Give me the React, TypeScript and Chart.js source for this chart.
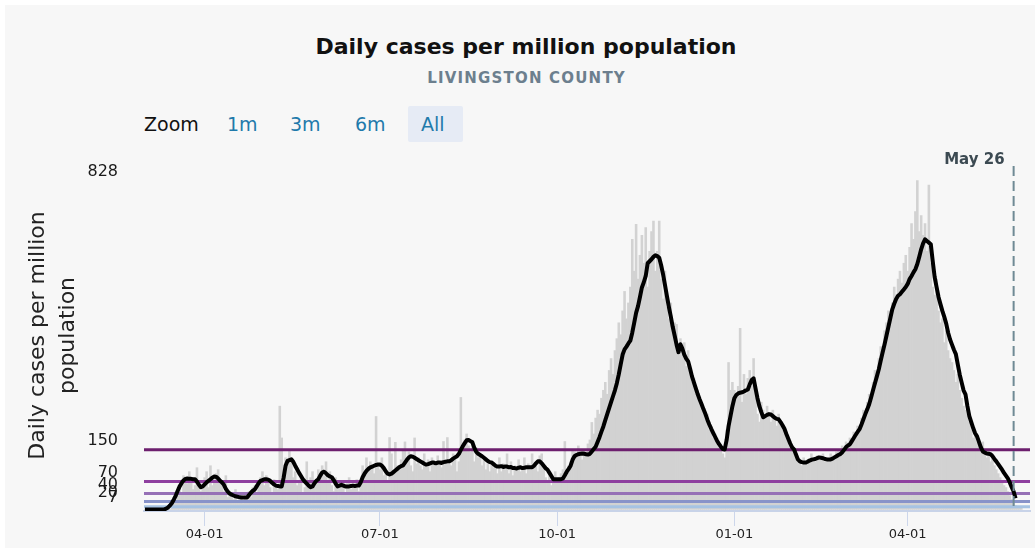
import { useEffect, useRef } from 'react';
import { Chart, registerables } from 'chart.js';

Chart.register(...registerables);

const FONT = '"DejaVu Sans", "Open Sans", sans-serif';

// Daily cases per million (bars), day 0 = 2020-03-01
const barsMar20 = [0, 0, 0, 0, 0, 0, 0, 0, 0, 0, 0, 0, 5, 0, 10, 25, 20, 45, 60, 40, 85, 70, 65, 95, 80, 50, 60, 105, 70, 45, 65];
const barsApr20 = [80, 95, 55, 110, 60, 75, 90, 100, 70, 60, 45, 85, 30, 40, 35, 25, 50, 20, 30, 40, 15, 35, 25, 45, 30, 55, 60, 40, 70, 80];
const barsMay20 = [95, 60, 85, 70, 55, 40, 75, 60, 50, 260, 180, 90, 130, 110, 150, 125, 80, 95, 60, 70, 85, 40, 55, 120, 65, 80, 95, 70, 75, 100, 90];
const barsJun20 = [110, 85, 120, 70, 95, 60, 45, 80, 50, 65, 55, 70, 40, 65, 80, 50, 55, 60, 75, 45, 70, 110, 80, 130, 95, 120, 110, 90, 234, 115];
const barsJul20 = [100, 130, 85, 95, 70, 181, 140, 90, 169, 110, 100, 125, 150, 170, 120, 145, 110, 95, 180, 115, 130, 110, 100, 140, 115, 125, 95, 130, 120, 110, 135];
const barsAug20 = [120, 105, 171, 115, 181, 125, 110, 140, 130, 95, 120, 282, 150, 175, 190, 160, 145, 170, 120, 155, 130, 135, 110, 125, 100, 115, 95, 120, 105, 110, 90];
const barsSep20 = [130, 95, 115, 100, 140, 90, 120, 85, 110, 100, 125, 95, 105, 130, 90, 115, 100, 140, 110, 120, 95, 135, 140, 105, 80, 70, 85, 60, 75, 95];
const barsOct20 = [70, 80, 90, 100, 171, 85, 110, 120, 150, 145, 130, 160, 140, 125, 150, 140, 165, 175, 219, 190, 230, 250, 240, 280, 300, 320, 290, 350, 380, 340, 400];
const barsNov20 = [430, 470, 440, 500, 549, 480, 520, 560, 680, 600, 718, 580, 640, 690, 620, 710, 560, 650, 700, 726, 600, 650, 726, 580, 530, 600, 509, 480, 520, 450];
const barsDec20 = [470, 466, 400, 430, 390, 420, 360, 400, 350, 320, 330, 290, 300, 270, 260, 250, 230, 240, 200, 210, 180, 190, 170, 160, 150, 140, 130, 200, 370, 300, 320];
const barsJan21 = [300, 290, 310, 456, 270, 340, 290, 330, 350, 310, 380, 300, 240, 220, 270, 250, 230, 260, 240, 220, 250, 230, 210, 240, 220, 200, 190, 180, 170, 160, 150];
const barsFeb21 = [140, 130, 120, 125, 110, 130, 120, 115, 125, 140, 130, 120, 135, 130, 125, 140, 120, 130, 125, 140, 135, 130, 145, 150, 140, 160, 155, 170];
const barsMar21 = [165, 180, 170, 195, 190, 210, 200, 230, 250, 240, 270, 290, 280, 320, 350, 340, 380, 410, 400, 450, 470, 500, 480, 520, 560, 540, 580, 600, 570, 620, 640];
const barsApr21 = [600, 660, 720, 680, 750, 828, 700, 740, 690, 720, 650, 817, 620, 560, 540, 580, 500, 470, 480, 420, 450, 400, 380, 370, 350, 320, 340, 300, 280, 260];
const barsMay21 = [250, 240, 220, 200, 180, 190, 170, 160, 150, 170, 140, 130, 150, 120, 140, 110, 100, 90, 80, 70, 60, 55, 45, 35, 25, 15, 10, 8, 5, 3];

// 7-day average (line)
const avgMar20 = [0, 0, 0, 0, 0, 0, 0, 0, 0, 0, 0, 2, 5, 10, 16, 25, 35, 47, 58, 66, 73, 77, 78, 77, 77, 76, 76, 70, 62, 56, 58];
const avgApr20 = [63, 68, 72, 76, 80, 83, 82, 78, 72, 68, 62, 52, 45, 40, 37, 35, 33, 32, 31, 30, 30, 30, 30, 36, 42, 47, 50, 58, 66, 72];
const avgMay20 = [74, 76, 76, 75, 72, 67, 63, 60, 59, 58, 58, 80, 110, 122, 124, 126, 120, 110, 101, 92, 84, 76, 70, 65, 60, 56, 58, 66, 72, 76, 85];
const avgJun20 = [93, 95, 91, 86, 83, 81, 74, 65, 58, 60, 62, 60, 58, 58, 58, 59, 60, 59, 60, 60, 68, 81, 90, 97, 102, 106, 108, 110, 112, 113];
const avgJul20 = [113, 110, 104, 96, 90, 88, 90, 94, 98, 102, 106, 109, 111, 118, 125, 131, 134, 133, 130, 127, 124, 121, 118, 115, 113, 114, 116, 118, 118, 116, 118];
const avgAug20 = [118, 117, 119, 120, 121, 121, 124, 128, 131, 134, 140, 150, 159, 167, 174, 175, 172, 169, 155, 145, 140, 137, 134, 130, 126, 122, 119, 118, 114, 110, 108];
const avgSep20 = [108, 109, 107, 108, 108, 106, 107, 104, 104, 103, 105, 106, 104, 105, 106, 106, 106, 106, 110, 116, 121, 121, 116, 110, 104, 100, 92, 84, 76, 76];
const avgOct20 = [76, 76, 76, 78, 86, 95, 102, 110, 125, 134, 137, 139, 140, 141, 140, 139, 138, 140, 146, 152, 158, 170, 182, 196, 209, 225, 240, 255, 270, 285, 300];
const avgNov20 = [318, 340, 365, 390, 403, 410, 418, 425, 445, 470, 495, 512, 535, 559, 572, 588, 620, 625, 630, 636, 640, 638, 634, 615, 592, 565, 537, 510, 486, 460];
const avgDec20 = [438, 415, 396, 416, 405, 390, 380, 373, 355, 335, 320, 305, 290, 277, 265, 252, 240, 226, 214, 203, 193, 183, 173, 165, 158, 152, 151, 175, 210, 235, 260];
const avgJan21 = [280, 288, 292, 294, 295, 297, 300, 302, 315, 326, 330, 305, 280, 260, 245, 232, 235, 238, 240, 239, 235, 231, 228, 227, 220, 212, 203, 190, 178, 166, 156];
const avgFeb21 = [151, 138, 126, 121, 119, 118, 118, 120, 123, 125, 126, 127, 129, 131, 130, 129, 127, 126, 126, 126, 128, 131, 134, 137, 139, 144, 150, 157];
const avgMar21 = [161, 164, 172, 180, 188, 195, 202, 214, 227, 240, 252, 265, 282, 300, 318, 335, 353, 375, 396, 416, 438, 460, 482, 504, 518, 530, 538, 542, 548, 554, 560];
const avgApr21 = [568, 580, 588, 597, 605, 618, 636, 655, 670, 680, 676, 672, 668, 625, 585, 560, 535, 517, 500, 485, 468, 445, 428, 415, 402, 391, 365, 340, 320, 300];
const avgMay21 = [290, 260, 235, 220, 205, 192, 184, 170, 156, 146, 143, 141, 140, 139, 134, 127, 121, 114, 107, 100, 92, 85, 78, 68, 56, 45, 28];

const dailyCases = [
  ...barsMar20, ...barsApr20, ...barsMay20, ...barsJun20, ...barsJul20, ...barsAug20, ...barsSep20,
  ...barsOct20, ...barsNov20, ...barsDec20, ...barsJan21, ...barsFeb21, ...barsMar21, ...barsApr21, ...barsMay21,
];
const sevenDayAvg = [
  ...avgMar20, ...avgApr20, ...avgMay20, ...avgJun20, ...avgJul20, ...avgAug20, ...avgSep20,
  ...avgOct20, ...avgNov20, ...avgDec20, ...avgJan21, ...avgFeb21, ...avgMar21, ...avgApr21, ...avgMay21,
];

const tickDays = [31, 122, 214, 306, 396];
const tickLabels = ['04-01', '07-01', '10-01', '01-01', '04-01'];
const yTicks = [7, 20, 40, 70, 150, 828];
const thresholdValues = [150, 70, 40, 20, 7];
const thresholdColors = ['#6d1f6e', '#8e3f9f', '#9670b6', '#8893c9', '#a6c3e3'];
const markerDay = 451;
const markerLabel = 'May 26';
const xMinDay = -0.5;
const xMaxDay = 459.5;

export default function App() {
  const ref = useRef<HTMLCanvasElement>(null);

  useEffect(() => {
    const canvas = ref.current;
    if (!canvas) return;

    const markerPlugin = {
      id: 'marker',
      afterDatasetsDraw(chart: any) {
        const { ctx, chartArea, scales } = chart;
        const px = scales.x.getPixelForValue(markerDay);
        ctx.save();
        ctx.strokeStyle = '#6f8a94';
        ctx.lineWidth = 2;
        ctx.setLineDash([10, 5]);
        ctx.beginPath();
        ctx.moveTo(px, chartArea.top + 6);
        ctx.lineTo(px, chartArea.bottom);
        ctx.stroke();
        ctx.setLineDash([]);
        ctx.fillStyle = '#3c4a52';
        ctx.font = `bold 15px ${FONT}`;
        ctx.textAlign = 'right';
        ctx.textBaseline = 'middle';
        ctx.fillText(markerLabel, px - 9, chartArea.top);
        ctx.restore();
      },
    };

    const thresholdSets = thresholdValues.map((v, i) => ({
      type: 'line' as const,
      data: [
        { x: xMinDay, y: v },
        { x: xMaxDay, y: v },
      ],
      borderColor: thresholdColors[i],
      borderWidth: 3,
      pointRadius: 0,
      order: 1,
    }));

    const chart = new Chart(canvas, {
      type: 'bar',
      data: {
        datasets: [
          {
            type: 'line',
            data: sevenDayAvg.map((v, i) => ({ x: i, y: v })),
            borderColor: '#000000',
            borderWidth: 4,
            pointRadius: 0,
            borderJoinStyle: 'round',
            order: 0,
          } as any,
          ...thresholdSets,
          {
            type: 'bar',
            data: dailyCases.map((v, i) => ({ x: i, y: v })),
            backgroundColor: '#d2d2d2',
            barPercentage: 1,
            categoryPercentage: 1,
            order: 2,
          } as any,
        ],
      },
      options: {
        animation: false,
        responsive: false,
        layout: { padding: { top: 160, right: 5, left: 0, bottom: 0 } },
        plugins: { legend: { display: false }, tooltip: { enabled: false } },
        scales: {
          x: {
            type: 'linear',
            min: xMinDay,
            max: xMaxDay,
            offset: false,
            afterBuildTicks: (s: any) => {
              s.ticks = tickDays.map((v) => ({ value: v }));
            },
            afterFit: (s: any) => {
              s.height = 37;
            },
            ticks: {
              autoSkip: false,
              maxRotation: 0,
              padding: 1,
              color: '#222222',
              font: { family: FONT, size: 13, weight: 500 as any },
              callback: (v: any) => {
                const k = tickDays.indexOf(Number(v));
                return k >= 0 ? tickLabels[k] : '';
              },
            },
            grid: { offset: false, drawOnChartArea: false, drawTicks: true, tickLength: 15, color: '#ccd6eb' },
            border: { display: true, color: '#c8d3e8', width: 2 },
          },
          y: {
            type: 'linear',
            min: -4,
            max: 880,
            afterBuildTicks: (s: any) => {
              s.ticks = yTicks.map((v) => ({ value: v }));
            },
            afterFit: (s: any) => {
              s.width = 144;
            },
            ticks: {
              padding: 26,
              labelOffset: -9,
              color: '#1a1a1a',
              font: { family: FONT, size: 16, weight: 500 as any },
              callback: (v: any) => String(v),
            },
            grid: { display: false, drawTicks: false },
            border: { display: false },
            title: {
              display: true,
              text: ['Daily cases per million', 'population'],
              color: '#222222',
              font: { family: FONT, size: 22, lineHeight: 1.36 },
              padding: { top: 23, bottom: 0 },
            },
          },
        },
      },
      plugins: [markerPlugin],
    });

    return () => chart.destroy();
  }, []);

  const zoomItem = (text: string, left: number, color: string) => (
    <div
      style={{
        position: 'absolute',
        left,
        top: 112,
        lineHeight: '24px',
        fontSize: 19,
        fontFamily: FONT,
        color,
        whiteSpace: 'nowrap',
      }}
    >
      {text}
    </div>
  );

  return (
    <div style={{ position: 'absolute', left: 0, top: 0, width: 1035, height: 548, background: '#ffffff', overflow: 'hidden' }}>
      <div style={{ position: 'absolute', left: 5, top: 5, width: 1030, height: 543, background: '#f7f7f7' }} />
      <div
        style={{
          position: 'absolute',
          left: 0,
          top: 33,
          width: 1052,
          textAlign: 'center',
          fontFamily: FONT,
          fontWeight: 700,
          fontSize: 22,
          lineHeight: '28px',
          color: '#111111',
        }}
      >
        Daily cases per million population
      </div>
      <div
        style={{
          position: 'absolute',
          left: 0,
          top: 69,
          width: 1053,
          textAlign: 'center',
          fontFamily: FONT,
          fontWeight: 700,
          fontSize: 15,
          letterSpacing: '1.2px',
          lineHeight: '18px',
          color: '#6c7f8e',
        }}
      >
        LIVINGSTON COUNTY
      </div>
      <div style={{ position: 'absolute', left: 408, top: 106, width: 55, height: 36, background: '#e6ebf5', borderRadius: 2 }} />
      {zoomItem('Zoom', 144, '#111111')}
      {zoomItem('1m', 227, '#1f7aab')}
      {zoomItem('3m', 290, '#1f7aab')}
      {zoomItem('6m', 355, '#1f7aab')}
      {zoomItem('All', 421, '#1f7aab')}
      <canvas
        ref={ref}
        width={1035}
        height={548}
        style={{ position: 'absolute', left: 0, top: 0, width: 1035, height: 548 }}
      />
    </div>
  );
}
